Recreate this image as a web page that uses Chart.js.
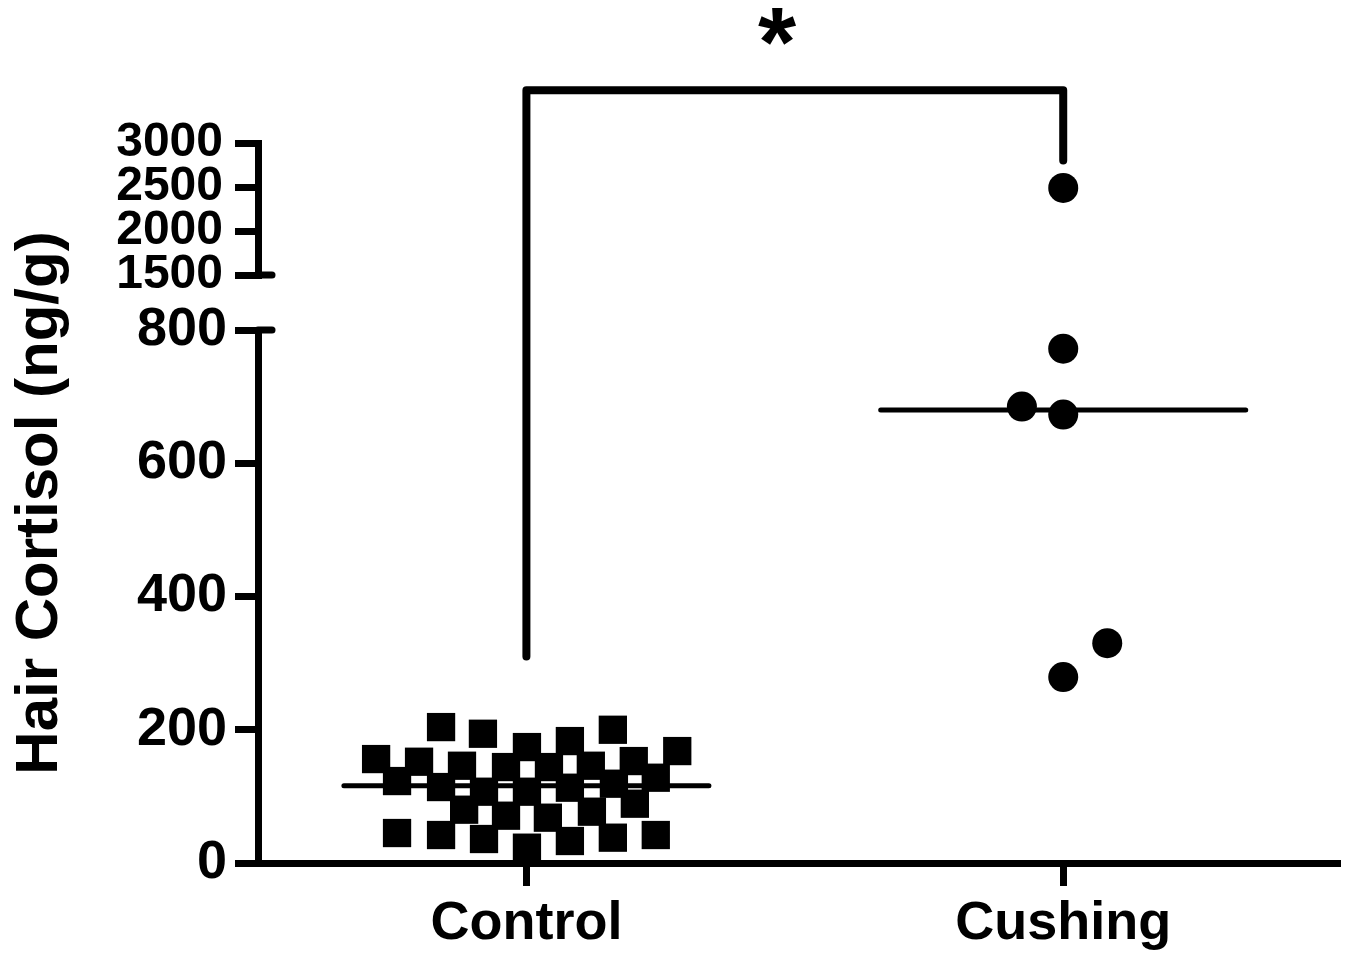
<!DOCTYPE html>
<html>
<head>
<meta charset="utf-8">
<style>
  html, body { margin: 0; padding: 0; background: #fff; }
</style>
<script src="https://cdn.jsdelivr.net/npm/chart.js@4.4.1/dist/chart.umd.min.js"></script>
</head>
<body>
<canvas id="myChart" width="1347" height="957"></canvas>
<script>
// data
const groups = ['Control', 'Cushing'];

const controlX = [0.841, 0.919, 1.161, 1.001, 1.081, 1.281,
                  0.720, 0.800, 0.880, 0.962, 1.042, 1.120, 1.200,
                  0.759, 0.841, 0.921, 1.001, 1.081, 1.163, 1.241,
                  0.884, 0.962, 1.040, 1.122, 1.202,
                  0.759, 0.841, 0.921, 1.001, 1.081, 1.161, 1.241];
const controlY = [204, 194, 200, 174, 183, 168,
                  156, 152, 146, 144, 144, 146, 153,
                  123, 114, 107, 107, 113, 119, 128,
                  80, 71, 68, 77, 89,
                  45, 42, 36, 23, 33, 38, 42];

const cushingX = [1.923, 2.0, 2.0, 2.082, 2.0];
const cushingY = [685, 772, 673, 330, 279];
const cushingHighX = [2.0];
const cushingHighY = [2490];

const medians = [116, 680];

const lowTicks = [0, 200, 400, 600, 800];
const highTicks = [1500, 2000, 2500, 3000];

// significance bracket: legs at the two groups, ends and top in axis units
const bracketX = [1, 2];
const bracketEnds = [310, 2800];
const bracketTop = 3600;
const starX = 1.467;

const FONT = '"Liberation Sans", Arial, sans-serif';
const medianHalf = 0.34;

function toPoints(xs, ys) {
    return xs.map((x, i) => ({ x: x, y: ys[i] }));
}

function medianLine(i) {
    const c = i + 1;
    return [{ x: c - medianHalf, y: medians[i] }, { x: c + medianHalf, y: medians[i] }];
}

const extras = {
    id: 'extras',
    afterDraw(chart) {
        const { ctx, chartArea, scales } = chart;
        const x = scales.x, yLow = scales.yLow, yHigh = scales.yHigh;
        ctx.save();
        ctx.strokeStyle = '#000';
        ctx.fillStyle = '#000';

        // bracket
        ctx.lineWidth = 8;
        ctx.lineJoin = 'round';
        ctx.lineCap = 'round';
        const xl = x.getPixelForValue(bracketX[0]);
        const xr = x.getPixelForValue(bracketX[1]);
        const yt = yHigh.getPixelForValue(bracketTop);
        ctx.beginPath();
        ctx.moveTo(xl, yLow.getPixelForValue(bracketEnds[0]));
        ctx.lineTo(xl, yt);
        ctx.lineTo(xr, yt);
        ctx.lineTo(xr, yHigh.getPixelForValue(bracketEnds[1]));
        ctx.stroke();

        ctx.font = 'bold 98px ' + FONT;
        ctx.textAlign = 'center';
        ctx.textBaseline = 'alphabetic';
        ctx.fillText('*', x.getPixelForValue(starX), yt - 14);

        // axis break marks
        ctx.lineWidth = 7;
        ctx.lineCap = 'round';
        const ax = chartArea.left;
        [yHigh.getPixelForValue(highTicks[0]), yLow.getPixelForValue(lowTicks[lowTicks.length - 1])].forEach(py => {
            ctx.beginPath();
            ctx.moveTo(ax, py);
            ctx.lineTo(ax + 14, py);
            ctx.stroke();
        });

        // y axis title
        ctx.translate(57, (chartArea.top + chartArea.bottom) / 2);
        ctx.rotate(-Math.PI / 2);
        ctx.font = 'bold 60px ' + FONT;
        ctx.textAlign = 'center';
        ctx.textBaseline = 'alphabetic';
        ctx.fillText('Hair Cortisol (ng/g)', 0, 0);
        ctx.restore();
    }
};

const axisGrid = {
    drawOnChartArea: false,
    color: '#000',
    lineWidth: 7,
    tickLength: 23
};

const ctx = document.getElementById('myChart').getContext('2d');

new Chart(ctx, {
    type: 'scatter',
    data: {
        datasets: [
            {
                label: 'Control',
                data: toPoints(controlX, controlY),
                yAxisID: 'yLow',
                pointStyle: 'rect',
                pointRadius: 20,
                backgroundColor: '#000',
                borderWidth: 0,
                clip: false
            },
            {
                label: 'Cushing',
                data: toPoints(cushingX, cushingY),
                yAxisID: 'yLow',
                pointStyle: 'circle',
                pointRadius: 15,
                backgroundColor: '#000',
                borderWidth: 0,
                clip: false
            },
            {
                label: 'Cushing high',
                data: toPoints(cushingHighX, cushingHighY),
                yAxisID: 'yHigh',
                pointStyle: 'circle',
                pointRadius: 15,
                backgroundColor: '#000',
                borderWidth: 0,
                clip: false
            },
            {
                label: 'Control median',
                data: medianLine(0),
                yAxisID: 'yLow',
                showLine: true,
                pointRadius: 0,
                borderColor: '#000',
                borderWidth: 5,
                borderCapStyle: 'round'
            },
            {
                label: 'Cushing median',
                data: medianLine(1),
                yAxisID: 'yLow',
                showLine: true,
                pointRadius: 0,
                borderColor: '#000',
                borderWidth: 5,
                borderCapStyle: 'round'
            }
        ]
    },
    options: {
        responsive: false,
        animation: false,
        events: [],
        layout: {
            autoPadding: false,
            padding: { top: 143, right: 10, bottom: 0, left: 0 }
        },
        plugins: {
            legend: { display: false },
            tooltip: { enabled: false }
        },
        scales: {
            x: {
                type: 'linear',
                position: 'bottom',
                min: 0.5,
                max: 2.51,
                afterBuildTicks: s => { s.ticks = groups.map((g, i) => ({ value: i + 1 })); },
                afterFit: s => { s.height = 94; },
                ticks: {
                    color: '#000',
                    padding: 6,
                    autoSkip: false,
                    font: { family: FONT, size: 54, weight: 'bold' },
                    callback: v => groups[v - 1]
                },
                grid: axisGrid,
                border: { color: '#000', width: 7 }
            },
            yHigh: {
                type: 'linear',
                position: 'left',
                stack: 'y',
                stackWeight: 132,
                weight: 3,
                min: 1500,
                max: 3000,
                afterBuildTicks: s => { s.ticks = highTicks.map(v => ({ value: v })); },
                afterFit: s => { s.width = 258; },
                ticks: {
                    color: '#000',
                    padding: 12,
                    autoSkip: false,
                    font: { family: FONT, size: 48, weight: 'bold' },
                    callback: v => String(v)
                },
                grid: axisGrid,
                border: { color: '#000', width: 7 }
            },
            yGap: {
                type: 'linear',
                position: 'left',
                stack: 'y',
                stackWeight: 55,
                weight: 2,
                min: 0,
                max: 1,
                display: false,
                afterFit: s => { s.width = 258; }
            },
            yLow: {
                type: 'linear',
                position: 'left',
                stack: 'y',
                stackWeight: 533,
                weight: 1,
                min: 0,
                max: 800,
                afterBuildTicks: s => { s.ticks = lowTicks.map(v => ({ value: v })); },
                afterFit: s => { s.width = 258; },
                ticks: {
                    color: '#000',
                    padding: 8,
                    autoSkip: false,
                    font: { family: FONT, size: 54, weight: 'bold' },
                    callback: v => String(v)
                },
                grid: axisGrid,
                border: { color: '#000', width: 7 }
            }
        }
    },
    plugins: [extras]
});
</script>
</body>
</html>
